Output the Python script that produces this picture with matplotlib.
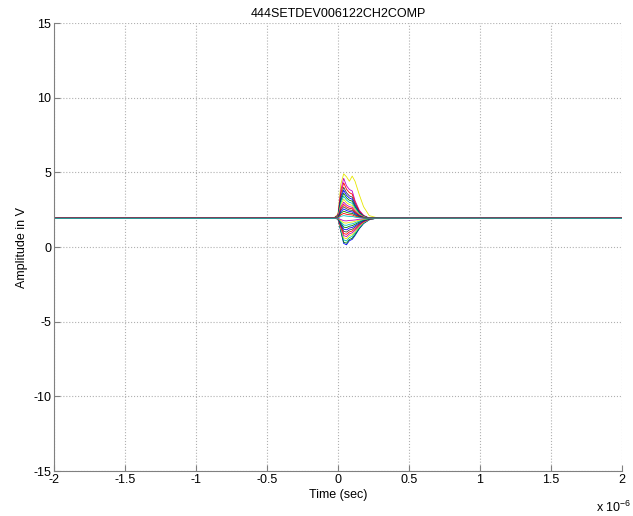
import matplotlib
matplotlib.use("Agg")
import matplotlib.pyplot as plt

plt.rcParams['font.family'] = ['Liberation Sans', 'DejaVu Sans']
plt.rcParams['axes.unicode_minus'] = False
plt.rcParams['mathtext.default'] = 'regular'

title = "444SETDEV006122CH2COMP"
xlabel = "Time (sec)"
ylabel = "Amplitude in V"

# time points in microseconds
times = [-2.0, -0.03, 0.0, 0.02, 0.04, 0.06, 0.08, 0.10, 0.12, 0.15, 0.18, 0.22, 0.27, 0.32, 2.0]

# pulse traces (values at the time points above)
traces = [
    [1.93, 1.93, 2.20, 4.20, 4.90, 4.70, 4.40, 4.75, 4.40, 3.50, 2.70, 2.10, 1.97, 1.93, 1.93],
    [1.93, 1.93, 1.88, 1.04, 0.24, 0.15, 0.42, 0.51, 0.77, 1.22, 1.57, 1.82, 1.93, 1.93, 1.93],
    [1.93, 1.93, 2.14, 3.80, 4.60, 4.10, 3.85, 3.75, 3.10, 2.46, 2.12, 1.93, 1.98, 1.93, 1.93],
    [1.92, 1.92, 1.88, 1.09, 0.33, 0.25, 0.50, 0.59, 0.84, 1.26, 1.59, 1.83, 1.93, 1.93, 1.92],
    [1.93, 1.93, 2.12, 3.59, 4.30, 3.87, 3.64, 3.54, 2.99, 2.40, 2.10, 1.93, 1.97, 1.93, 1.93],
    [1.94, 1.94, 1.88, 1.17, 0.48, 0.40, 0.63, 0.71, 0.94, 1.32, 1.62, 1.84, 1.93, 1.94, 1.94],
    [1.93, 1.93, 2.10, 3.38, 4.00, 3.63, 3.42, 3.34, 2.86, 2.34, 2.07, 1.93, 1.97, 1.93, 1.93],
    [1.93, 1.93, 1.89, 1.24, 0.62, 0.55, 0.76, 0.83, 1.03, 1.38, 1.65, 1.85, 1.93, 1.93, 1.93],
    [1.92, 1.92, 2.08, 3.24, 3.80, 3.46, 3.28, 3.20, 2.77, 2.30, 2.06, 1.93, 1.96, 1.93, 1.92],
    [1.93, 1.93, 1.89, 1.32, 0.76, 0.70, 0.88, 0.95, 1.13, 1.44, 1.68, 1.86, 1.93, 1.93, 1.93],
    [1.93, 1.93, 2.06, 3.10, 3.60, 3.30, 3.13, 3.07, 2.68, 2.26, 2.05, 1.93, 1.96, 1.93, 1.93],
    [1.94, 1.94, 1.90, 1.39, 0.90, 0.85, 1.01, 1.07, 1.23, 1.50, 1.71, 1.87, 1.93, 1.94, 1.94],
    [1.93, 1.93, 2.05, 2.96, 3.40, 3.14, 2.99, 2.93, 2.59, 2.22, 2.03, 1.93, 1.96, 1.93, 1.93],
    [1.93, 1.93, 1.90, 1.47, 1.05, 1.00, 1.14, 1.19, 1.33, 1.56, 1.74, 1.87, 1.93, 1.93, 1.93],
    [1.92, 1.92, 2.03, 2.82, 3.20, 2.97, 2.84, 2.79, 2.50, 2.18, 2.02, 1.93, 1.95, 1.93, 1.92],
    [1.93, 1.93, 1.91, 1.54, 1.19, 1.15, 1.27, 1.31, 1.42, 1.62, 1.77, 1.88, 1.93, 1.93, 1.93],
    [1.93, 1.93, 2.02, 2.68, 3.00, 2.81, 2.70, 2.66, 2.41, 2.14, 2.00, 1.93, 1.95, 1.93, 1.93],
    [1.94, 1.94, 1.91, 1.62, 1.33, 1.30, 1.39, 1.43, 1.52, 1.68, 1.80, 1.89, 1.93, 1.94, 1.94],
    [1.93, 1.93, 2.00, 2.57, 2.85, 2.68, 2.59, 2.56, 2.34, 2.11, 1.99, 1.93, 1.95, 1.93, 1.93],
    [1.93, 1.93, 1.92, 1.69, 1.47, 1.45, 1.52, 1.55, 1.62, 1.74, 1.83, 1.90, 1.93, 1.93, 1.93],
    [1.92, 1.92, 1.99, 2.47, 2.70, 2.56, 2.48, 2.45, 2.28, 2.08, 1.98, 1.93, 1.94, 1.93, 1.92],
    [1.93, 1.93, 1.92, 1.77, 1.62, 1.60, 1.65, 1.67, 1.72, 1.80, 1.86, 1.91, 1.93, 1.93, 1.93],
    [1.93, 1.93, 1.98, 2.36, 2.55, 2.44, 2.38, 2.35, 2.21, 2.05, 1.97, 1.93, 1.94, 1.93, 1.93],
    [1.94, 1.94, 1.92, 1.84, 1.76, 1.75, 1.78, 1.79, 1.81, 1.86, 1.89, 1.92, 1.93, 1.94, 1.94],
    [1.93, 1.93, 1.97, 2.26, 2.40, 2.32, 2.27, 2.25, 2.14, 2.02, 1.96, 1.93, 1.94, 1.93, 1.93],
    [1.93, 1.93, 1.96, 2.15, 2.25, 2.19, 2.16, 2.15, 2.07, 1.99, 1.95, 1.93, 1.93, 1.93, 1.93],
    [1.92, 1.92, 1.94, 2.05, 2.10, 2.07, 2.05, 2.05, 2.00, 1.96, 1.94, 1.93, 1.93, 1.93, 1.92],
]

# MATLAB-like colour order (yellow first for the tallest trace)
colors = ['#e6e600', '#0000ff', '#bf00bf', '#008000', '#ff0000', '#00bfbf', '#404040']

xticks = [-2, -1.5, -1, -0.5, 0, 0.5, 1, 1.5, 2]
xticklabels = ['-2', '-1.5', '-1', '-0.5', '0', '0.5', '1', '1.5', '2']
yticks = [-15, -10, -5, 0, 5, 10, 15]

fig = plt.figure(figsize=(6.33, 5.16), dpi=100)
ax = fig.add_axes([54/633, 45/516, 568/633, 448/516])

for i, tr in enumerate(traces):
    ax.plot(times, tr, color=colors[i % len(colors)], lw=0.6)

ax.set_xlim(-2, 2)
ax.set_ylim(-15, 15)
ax.set_xticks(xticks)
ax.set_xticklabels(xticklabels)
ax.set_yticks(yticks)
ax.grid(True, linestyle=':', color='#b0b0b0', lw=0.8)
ax.set_axisbelow(True)
for s in ['top', 'right']:
    ax.spines[s].set_visible(False)
for s in ['left', 'bottom']:
    ax.spines[s].set_color('#808080')
ax.tick_params(direction='in', length=4, colors='#808080', labelcolor='black', labelsize=9, pad=2)

ax.set_title(title, fontsize=9, pad=4)
ax.set_xlabel(xlabel, fontsize=9, labelpad=2)
ax.set_ylabel(ylabel, fontsize=9, labelpad=4)
fig.text(596/633, 1 - 507/516, 'x 10$^{-6}$', fontsize=9, ha='left', va='center')

fig.savefig('out.png', dpi=100)
